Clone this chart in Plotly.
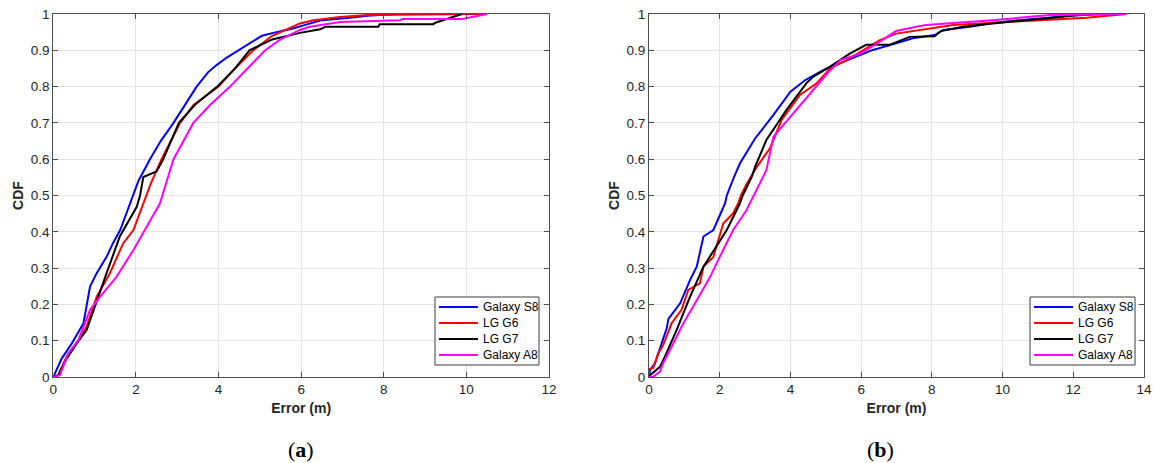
import plotly.graph_objects as go
from plotly.subplots import make_subplots

# Localization error CDFs per handset, two test scenarios (a) and (b)
devices = ["Galaxy S8", "LG G6", "LG G7", "Galaxy A8"]
colors = ["#0000FF", "#FF0000", "#000000", "#FF00FF"]

# ---- scenario (a): error (m) and cumulative probability ----
a_s8_err = [0, 0.08, 0.2, 0.45, 0.62, 0.73, 0.89, 1.05, 1.29, 1.45, 1.62, 1.86, 2.06, 2.34, 2.6, 2.91, 3.2, 3.47, 3.75, 3.96, 4.2, 4.48, 4.75, 5.05, 5.4, 5.8, 6.1, 6.46, 7.18, 7.6, 8.3]
a_s8_cdf = [0, 0.019, 0.05, 0.093, 0.125, 0.148, 0.249, 0.286, 0.331, 0.37, 0.405, 0.478, 0.54, 0.6, 0.65, 0.7, 0.75, 0.8, 0.84, 0.86, 0.88, 0.9, 0.92, 0.94, 0.95, 0.96, 0.97, 0.982, 0.99, 0.995, 1.0]

a_g6_err = [0, 0.12, 0.32, 0.57, 0.81, 1.05, 1.37, 1.69, 1.94, 2.18, 2.35, 2.62, 3.07, 3.4, 4.0, 4.4, 4.84, 5.3, 5.97, 6.3, 6.94, 7.6, 9.0, 10.4]
a_g6_cdf = [0, 0.005, 0.056, 0.093, 0.139, 0.221, 0.286, 0.368, 0.405, 0.478, 0.53, 0.6, 0.7, 0.75, 0.8, 0.85, 0.9, 0.94, 0.974, 0.983, 0.992, 0.997, 0.998, 1.0]

a_g7_err = [0, 0.12, 0.32, 0.57, 0.81, 1.05, 1.29, 1.61, 2.02, 2.1, 2.18, 2.5, 2.66, 3.04, 3.43, 3.97, 4.4, 4.75, 5.3, 5.97, 6.46, 6.6, 7.87, 7.9, 9.2, 9.25, 9.89]
a_g7_cdf = [0, 0.005, 0.05, 0.093, 0.13, 0.21, 0.286, 0.387, 0.469, 0.5, 0.551, 0.566, 0.6, 0.7, 0.75, 0.8, 0.85, 0.9, 0.93, 0.948, 0.958, 0.965, 0.965, 0.972, 0.972, 0.976, 1.0]

a_a8_err = [0, 0.16, 0.36, 0.61, 0.89, 1.13, 1.53, 1.94, 2.26, 2.58, 2.91, 3.39, 3.8, 4.28, 4.7, 5.13, 5.5, 5.97, 6.21, 6.94, 8.39, 8.45, 9.9, 10.5]
a_a8_cdf = [0, 0.005, 0.065, 0.102, 0.185, 0.221, 0.276, 0.35, 0.414, 0.478, 0.6, 0.7, 0.75, 0.8, 0.85, 0.9, 0.93, 0.956, 0.965, 0.978, 0.983, 0.986, 0.986, 1.0]

# ---- scenario (b) ----
b_s8_err = [0, 0.03, 0.17, 0.5, 0.55, 0.88, 1.16, 1.35, 1.54, 1.82, 2.15, 2.2, 2.4, 2.57, 3.0, 3.52, 4.0, 4.42, 4.94, 5.41, 5.98, 6.33, 6.99, 7.46, 8.08, 8.32, 9.07, 9.72, 10.48, 11.33, 11.9, 12.85]
b_s8_cdf = [0, 0.019, 0.038, 0.134, 0.16, 0.203, 0.267, 0.304, 0.387, 0.405, 0.478, 0.5, 0.55, 0.588, 0.657, 0.722, 0.786, 0.818, 0.846, 0.864, 0.887, 0.901, 0.919, 0.933, 0.942, 0.956, 0.965, 0.975, 0.983, 0.99, 0.995, 1.0]

b_g6_err = [0, 0.0, 0.12, 0.26, 0.4, 0.55, 0.64, 0.92, 1.11, 1.44, 1.54, 1.82, 2.0, 2.1, 2.38, 2.52, 2.6, 2.75, 3.05, 3.42, 3.75, 4.27, 4.74, 5.12, 5.59, 6.25, 6.53, 6.99, 7.65, 8.6, 9.72, 11.42, 12.37, 13.5]
b_g6_cdf = [0, 0.022, 0.025, 0.065, 0.088, 0.125, 0.148, 0.185, 0.24, 0.258, 0.304, 0.331, 0.395, 0.423, 0.451, 0.478, 0.5, 0.53, 0.579, 0.63, 0.708, 0.777, 0.809, 0.85, 0.873, 0.91, 0.928, 0.946, 0.956, 0.97, 0.976, 0.986, 0.99, 1.0]

b_g7_err = [0, 0.03, 0.31, 0.45, 0.78, 1.16, 1.54, 1.91, 2.2, 2.48, 2.57, 2.65, 2.9, 3.0, 3.32, 3.89, 4.45, 4.64, 5.12, 5.68, 6.14, 6.8, 7.37, 8.08, 8.26, 8.88, 9.72, 11.42, 12.4]
b_g7_cdf = [0, 0.005, 0.028, 0.056, 0.129, 0.221, 0.304, 0.359, 0.405, 0.46, 0.478, 0.5, 0.55, 0.579, 0.653, 0.736, 0.809, 0.827, 0.855, 0.891, 0.915, 0.915, 0.937, 0.939, 0.953, 0.965, 0.974, 0.99, 1.0]

b_a8_err = [0, 0.12, 0.31, 0.4, 0.69, 0.97, 1.25, 1.73, 2.0, 2.38, 2.76, 2.85, 2.95, 3.2, 3.32, 3.52, 4.0, 4.56, 5.04, 5.41, 5.98, 6.45, 6.99, 7.56, 7.84, 8.6, 9.72, 11.33, 13.5]
b_a8_cdf = [0, 0.001, 0.015, 0.038, 0.093, 0.148, 0.194, 0.276, 0.331, 0.405, 0.46, 0.478, 0.5, 0.55, 0.57, 0.662, 0.717, 0.781, 0.836, 0.873, 0.891, 0.919, 0.953, 0.965, 0.97, 0.975, 0.983, 0.997, 1.0]

panel_a = [(a_s8_err, a_s8_cdf), (a_g6_err, a_g6_cdf), (a_g7_err, a_g7_cdf), (a_a8_err, a_a8_cdf)]
panel_b = [(b_s8_err, b_s8_cdf), (b_g6_err, b_g6_cdf), (b_g7_err, b_g7_cdf), (b_a8_err, b_a8_cdf)]

W, H = 1153, 463
fig = make_subplots(rows=1, cols=2)

for col, series in enumerate([panel_a, panel_b], start=1):
    for name, color, (err, cdf) in zip(devices, colors, series):
        fig.add_trace(go.Scatter(x=err, y=cdf, mode="lines", name=name,
                                 line=dict(color=color, width=2),
                                 showlegend=False),
                      row=1, col=col)

font_family = "Liberation Sans, Arial, sans-serif"
title_font = dict(family=font_family, size=14, color="#262626")
axis_common = dict(showline=True, linecolor="#4d4d4d", linewidth=1, mirror="allticks",
                   ticks="inside", ticklen=5, tickcolor="#4d4d4d", automargin=False,
                   showgrid=True, gridcolor="#e3e3e3", gridwidth=1, zeroline=False,
                   tickfont=dict(family=font_family, size=13.5, color="#262626"))

y0, y1 = (H - 377) / H, (H - 14) / H
fig.update_xaxes(**axis_common)
fig.update_yaxes(**axis_common)
fig.update_layout(
    xaxis=dict(domain=[53.3 / W, 549 / W], range=[0, 12], dtick=2,
               title=dict(text="<b>Error (m)</b>", standoff=6, font=title_font)),
    xaxis2=dict(domain=[649 / W, 1144 / W], range=[0, 14], dtick=2,
                title=dict(text="<b>Error (m)</b>", standoff=6, font=title_font)),
    yaxis=dict(domain=[y0, y1], range=[0, 1], dtick=0.1, tickformat="~g",
               title=dict(text="<b>CDF</b>", standoff=3, font=title_font)),
    yaxis2=dict(domain=[y0, y1], range=[0, 1], dtick=0.1, tickformat="~g",
                title=dict(text="<b>CDF</b>", standoff=3, font=title_font)),
)

# Boxed legends in the lower-right corner of each panel (pixel layout)
legend_boxes = [
    dict(x0=435, x1=539, y0=297, y1=365, line_x0=439, line_x1=478, text_x=481),
    dict(x0=1030, x1=1135, y0=297, y1=365, line_x0=1034, line_x1=1073, text_x=1076),
]
row_y = [307, 323, 339, 355]
for box in legend_boxes:
    fig.add_shape(type="rect", xref="paper", yref="paper",
                  x0=box["x0"] / W, x1=box["x1"] / W,
                  y0=1 - box["y1"] / H, y1=1 - box["y0"] / H,
                  line=dict(color="#3c3c3c", width=1), fillcolor="white", layer="above")
    for name, color, ry in zip(devices, colors, row_y):
        fig.add_shape(type="line", xref="paper", yref="paper",
                      x0=box["line_x0"] / W, x1=box["line_x1"] / W,
                      y0=1 - ry / H, y1=1 - ry / H,
                      line=dict(color=color, width=2), layer="above")
        fig.add_annotation(text=name, xref="paper", yref="paper",
                           x=box["text_x"] / W, y=1 - ry / H,
                           xanchor="left", yanchor="middle", showarrow=False,
                           font=dict(family=font_family, size=12, color="#000000"))

serif = "Liberation Serif, DejaVu Serif, serif"
for label, xc in [("a", 301), ("b", 880)]:
    fig.add_annotation(text=f"(<b>{label}</b>)", x=xc / W, y=(H - 449) / H,
                       xref="paper", yref="paper", showarrow=False,
                       xanchor="center", yanchor="middle",
                       font=dict(family=serif, size=22, color="#000000"))

fig.update_layout(width=W, height=H, margin=dict(l=0, r=0, t=0, b=0, autoexpand=False),
                  paper_bgcolor="white", plot_bgcolor="white")

fig.write_html("out.html")
